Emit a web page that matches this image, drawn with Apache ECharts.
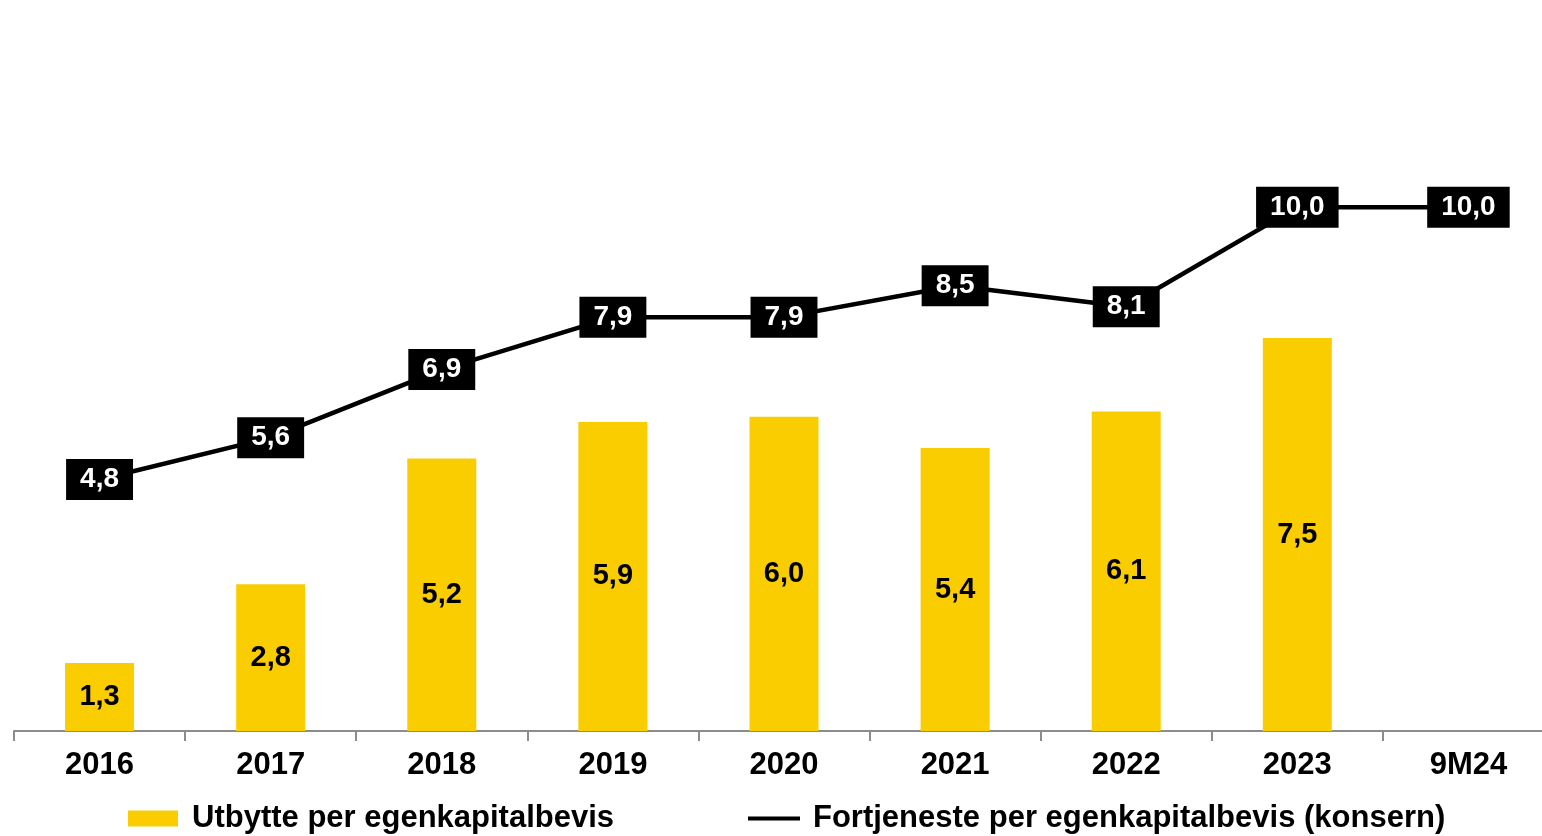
<!DOCTYPE html>
<html>
<head>
<meta charset="utf-8">
<script src="https://cdn.jsdelivr.net/npm/echarts@6/dist/echarts.min.js"></script>
<style>
  html, body { margin: 0; padding: 0; background: #ffffff; }
  #chart { width: 1542px; height: 836px; }
</style>
</head>
<body>
<div id="chart"></div>
<script>
// Categories and values
const categories = ['2016', '2017', '2018', '2019', '2020', '2021', '2022', '2023', '9M24'];
const dividendPerShare = [1.3, 2.8, 5.2, 5.9, 6.0, 5.4, 6.1, 7.5, null];
const earningsPerShare = [4.8, 5.6, 6.9, 7.9, 7.9, 8.5, 8.1, 10.0, 10.0];
const barName = 'Utbytte per egenkapitalbevis';
const lineName = 'Fortjeneste per egenkapitalbevis (konsern)';

const FONT = '"Liberation Sans", Arial, sans-serif';
const fmt = v => v.toFixed(1).replace('.', ',');

const chart = echarts.init(document.getElementById('chart'), null, { renderer: 'canvas' });
chart.setOption({
  backgroundColor: '#ffffff',
  animation: false,
  grid: { left: 14, top: 50, width: 1540, height: 681, containLabel: false, outerBoundsMode: 'none' },
  legend: [
    {
      left: 128, top: 803, padding: 0, itemWidth: 50, itemHeight: 16, itemGap: 0,
      data: [{ name: barName, icon: 'rect' }],
      textStyle: { fontFamily: FONT, fontSize: 31, fontWeight: 'bold', color: '#000', padding: [0, 0, 0, 9] }
    },
    {
      left: 748, top: 803, padding: 0, itemWidth: 52, itemHeight: 4, itemGap: 0,
      data: [{ name: lineName, icon: 'rect' }],
      textStyle: { fontFamily: FONT, fontSize: 31, fontWeight: 'bold', color: '#000', padding: [0, 0, 0, 8] }
    }
  ],
  xAxis: {
    type: 'category',
    data: categories,
    axisLine: { lineStyle: { color: '#8c8c8c', width: 2 } },
    axisTick: { show: true, length: 10, lineStyle: { color: '#8c8c8c', width: 2 } },
    axisLabel: { fontFamily: FONT, fontSize: 31, fontWeight: 'bold', color: '#000', margin: 19 }
  },
  yAxis: {
    type: 'value', min: 0, max: 13, show: false,
    splitLine: { show: false }
  },
  series: [
    {
      name: barName,
      type: 'bar',
      data: dividendPerShare,
      barWidth: 69,
      itemStyle: { color: '#F9CD00' },
      label: {
        show: true, position: 'inside',
        fontFamily: FONT, fontSize: 29, fontWeight: 'bold', color: '#000',
        formatter: p => fmt(p.value)
      }
    },
    {
      name: lineName,
      type: 'line',
      data: earningsPerShare,
      symbol: 'circle', symbolSize: 2,
      itemStyle: { color: '#000' },
      lineStyle: { color: '#000', width: 4.5 },
      z: 5,
      label: {
        show: true, position: 'inside',
        fontFamily: FONT, fontSize: 28, fontWeight: 'bold', color: '#fff',
        backgroundColor: '#000', padding: [7, 14, 6, 14],
        formatter: p => fmt(p.value)
      }
    }
  ]
});
</script>
</body>
</html>
